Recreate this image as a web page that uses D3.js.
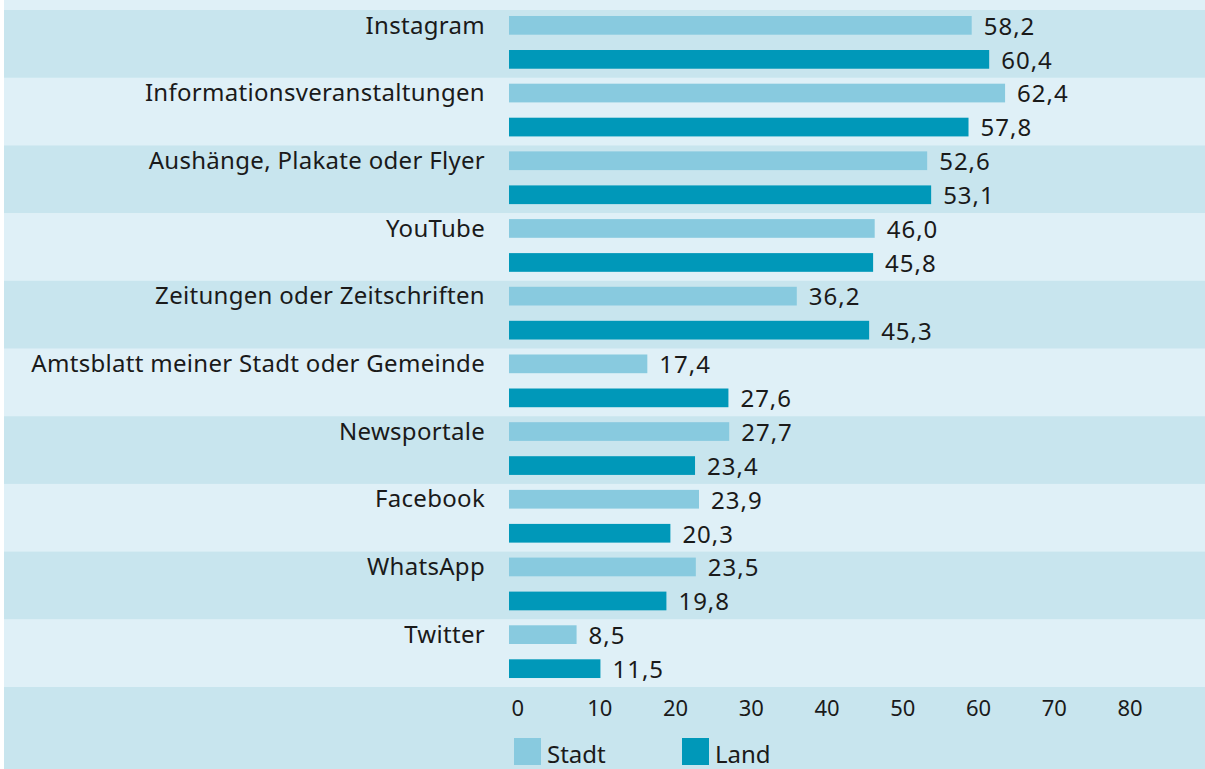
<!DOCTYPE html>
<html>
<head>
<meta charset="utf-8">
<script src="https://cdn.jsdelivr.net/npm/d3@7"></script>
<style>
  html, body { margin: 0; padding: 0; background: #ffffff; }
  svg { display: block; }
  text { font-family: "Noto Sans", sans-serif; fill: #1a1a1a; }
</style>
</head>
<body>
<svg id="chart" width="1205" height="769"></svg>
<script>
const categories = [
  "Instagram",
  "Informationsveranstaltungen",
  "Aushänge, Plakate oder Flyer",
  "YouTube",
  "Zeitungen oder Zeitschriften",
  "Amtsblatt meiner Stadt oder Gemeinde",
  "Newsportale",
  "Facebook",
  "WhatsApp",
  "Twitter"
];
const series = ["Stadt", "Land"];
const stadt = [58.2, 62.4, 52.6, 46.0, 36.2, 17.4, 27.7, 23.9, 23.5, 8.5];
const land  = [60.4, 57.8, 53.1, 45.8, 45.3, 27.6, 23.4, 20.3, 19.8, 11.5];
const ticks = [0, 10, 20, 30, 40, 50, 60, 70, 80];

const colors = { Stadt: "#88cadf", Land: "#0098b9" };
const bandDark = "#c8e5ee", bandLight = "#dff0f7";

const svg = d3.select("#chart");
const W = 1205, H = 769;
const left = 4;

const rows = categories.map((c, i) => ({ cat: c, i, Stadt: stadt[i], Land: land[i] }));

const y = d3.scaleBand().domain(categories).range([10, 687]).paddingInner(0).paddingOuter(0);
const ySub = d3.scaleBand().domain(series).range([0, y.bandwidth()])
  .paddingInner(0.45).paddingOuter(0.22).align(0.4);

// bar scale
const x = d3.scaleLinear().domain([0, 80]).range([509, 509 + 80 * 7.95]);
// axis label scale
const xAxisScale = d3.scaleLinear().domain([0, 80]).range([511, 1117]);

// background: top strip
svg.append("rect").attr("x", left).attr("y", 0).attr("width", W - left).attr("height", 10).attr("fill", bandLight);
// bands
svg.append("g").selectAll("rect").data(rows).join("rect")
  .attr("x", left).attr("y", d => y(d.cat))
  .attr("width", W - left).attr("height", y.bandwidth() + 0.5)
  .attr("fill", d => d.i % 2 === 0 ? bandDark : bandLight);
// bottom area
svg.append("rect").attr("x", left).attr("y", 687).attr("width", W - left).attr("height", H - 687).attr("fill", bandDark);

// category labels
svg.append("g").selectAll("text").data(rows).join("text")
  .attr("x", 485).attr("y", d => y(d.cat) + 23.5)
  .attr("text-anchor", "end")
  .attr("font-size", 24)
  .attr("letter-spacing", 0.3)
  .text(d => d.cat);

// bars
const g = svg.append("g");
rows.forEach(r => {
  series.forEach(s => {
    const v = r[s];
    const by = y(r.cat) + ySub(s);
    g.append("rect")
      .attr("x", x(0)).attr("y", by)
      .attr("width", x(v) - x(0)).attr("height", ySub.bandwidth())
      .attr("fill", colors[s]);
    g.append("text")
      .attr("x", x(v) + 12).attr("y", by + ySub.bandwidth())
      .attr("font-size", 24)
      .attr("letter-spacing", 1)
      .text(d3.format(".1f")(v).replace(".", ","));
  });
});

// x axis labels
const axis = d3.axisBottom(xAxisScale).tickValues(ticks).tickSize(0).tickPadding(0)
  .tickFormat(d => String(d));
const ax = svg.append("g").attr("transform", "translate(0,700)").call(axis);
ax.select(".domain").remove();
ax.selectAll("text")
  .attr("text-anchor", "start")
  .attr("dy", null)
  .attr("y", 16)
  .style("font-family", '"Noto Sans", sans-serif')
  .style("font-size", "22px")
  .style("fill", "#1a1a1a");

// legend
const legendX = { Stadt: 514, Land: 682 };
const lg = svg.append("g");
series.forEach(s => {
  lg.append("rect").attr("x", legendX[s]).attr("y", 738).attr("width", 27).attr("height", 27).attr("fill", colors[s]);
  lg.append("text").attr("x", legendX[s] + 33).attr("y", 763).attr("font-size", 24).text(s);
});
</script>
</body>
</html>
